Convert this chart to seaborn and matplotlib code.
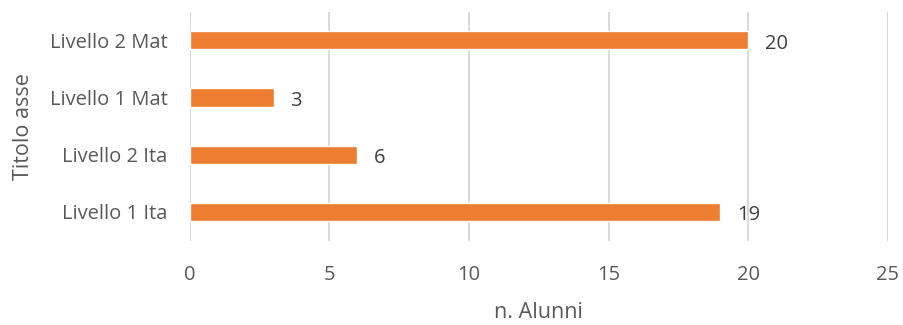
import matplotlib
matplotlib.use("Agg")
import matplotlib.pyplot as plt
import seaborn as sns
import pandas as pd

categories = ["Livello 2 Mat", "Livello 1 Mat", "Livello 2 Ita", "Livello 1 Ita"]
values = [20, 3, 6, 19]

sns.set_style("white")
plt.rcParams['font.family'] = ['Open Sans', 'DejaVu Sans']

df = pd.DataFrame({"cat": categories, "val": values})

fig = plt.figure(figsize=(9.04, 3.25), dpi=100)
ax = fig.add_axes([0.210, 0.260, 0.772, 0.704])
sns.barplot(data=df, x="val", y="cat", orient="h", color="#ED7D31", width=0.32,
            saturation=1, ax=ax, zorder=3)

ax.set_xlim(0, 25)
ax.set_xticks([0, 5, 10, 15, 20, 25])
ax.grid(axis="x", color="#D9D9D9", linewidth=1.4, zorder=0)
ax.grid(axis="y", visible=False)
for s in ax.spines.values():
    s.set_visible(False)
ax.tick_params(axis="both", length=0, labelsize=14.5, colors="#595959")
ax.tick_params(axis="x", pad=18)
ax.tick_params(axis="y", pad=16)

for i, v in enumerate(values):
    ax.text(v + 0.6, i + 0.06, str(v), va="center", ha="left", fontsize=14.5, color="#404040")

ax.set_xlabel("n. Alunni", fontsize=15.5, color="#595959", labelpad=12)
ax.set_ylabel("Titolo asse", fontsize=15.5, color="#595959", labelpad=11)

fig.savefig("out.png", dpi=100)
